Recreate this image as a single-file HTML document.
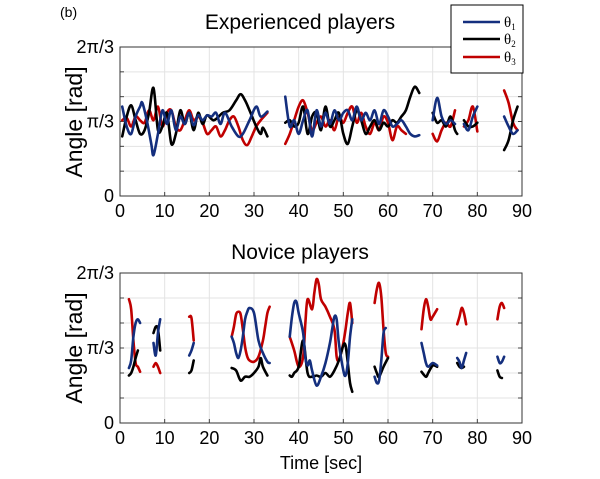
<!DOCTYPE html>
<html><head><meta charset="utf-8"><style>
body{margin:0;background:#fff;}
svg{display:block;font-family:"Liberation Sans",sans-serif;}
</style></head><body>
<svg id="fig" width="600" height="479" viewBox="0 0 600 479" xmlns="http://www.w3.org/2000/svg">
<text x="60" y="17" font-size="14">(b)</text>
<text x="300" y="29" font-size="21" text-anchor="middle">Experienced players</text>
<text x="300" y="259" font-size="21" text-anchor="middle">Novice players</text>
<text transform="translate(82,122) rotate(-90)" font-size="23" text-anchor="middle">Angle [rad]</text>
<text transform="translate(82,348) rotate(-90)" font-size="23" text-anchor="middle">Angle [rad]</text>
<text x="321" y="469" font-size="18" text-anchor="middle">Time [sec]</text>
<g id="top"></g>
<g id="bot"></g>
<g>
<rect x="451" y="5" width="72" height="68" fill="#fff" stroke="#000" stroke-width="1"/>
<line x1="463" y1="22" x2="500" y2="22" stroke="#142f7e" stroke-width="2.5"/>
<line x1="463" y1="39" x2="500" y2="39" stroke="#000" stroke-width="2.5"/>
<line x1="463" y1="57" x2="500" y2="57" stroke="#c00000" stroke-width="2.5"/>
<text x="504" y="27" font-family="Liberation Serif,serif" font-size="15">θ<tspan font-size="9" dy="3">1</tspan></text>
<text x="504" y="44" font-family="Liberation Serif,serif" font-size="15">θ<tspan font-size="9" dy="3">2</tspan></text>
<text x="504" y="62" font-family="Liberation Serif,serif" font-size="15">θ<tspan font-size="9" dy="3">3</tspan></text>
</g>
</svg>
<script>
// values: angle in degrees (2π/3 = 120°), time in seconds
const xTicks = [0,10,20,30,40,50,60,70,80,90];
const yTickVals = [0,60,120];
const yTickLabels = ["0","π/3","2π/3"];
const yGridVals = [0,20,40,60,80,100,120];

const expTheta1 = [
 [[0.5,72],[1.5,56],[2.5,50],[3.5,64],[4.5,72],[5,75],[6,61],[7,42],[7.5,33],[8.5,50],[9.5,69],[10.5,58],[11.5,69],[12.5,53],[13.5,64],[14.5,58],[15.5,67],[16.5,57],[17.5,65],[18.5,61],[19.5,65],[20.5,64],[21.5,67],[22.5,58],[23.5,67],[25,56],[26.5,48],[27.5,50],[29,61],[30.5,72],[31.5,64],[33,68]],
 [[37,80],[38,56],[39,61],[40,50],[41,61],[42,69],[43,48],[44,69],[45,56],[46,67],[47,58],[48,69],[49,61],[50,67],[51,69],[52,61],[53,72],[54,61],[55,67],[56,61],[57,69],[58,58],[59,69],[60,64],[61,56],[62,58],[63,61],[64,56],[65,50],[66,48],[67,49]],
 [[70,61],[71,79],[72,64],[73,58],[74,61],[75,58]],
 [[77,58],[78,53],[79,64],[80,72]],
 [[86,64],[87,56],[88,50],[89,53]]
];
const expTheta2 = [
 [[0.5,48],[1.5,64],[2.5,73],[3.5,61],[4.5,50],[5.5,53],[6.5,67],[7.5,87],[8.5,53],[9.5,56],[10.5,67],[11.5,42],[12.5,50],[13.5,69],[14.5,58],[15.5,67],[16.5,53],[17.5,67],[18.5,58],[19.5,65],[21,61],[23,67],[24.5,69],[26,77],[27,82],[28,77],[29,69],[30.5,56],[31.5,50],[32,55],[33,48]],
 [[37,59],[38,61],[39,56],[40,59],[41,72],[42,50],[43,64],[44,67],[45,53],[46,72],[47,56],[48,61],[49,67],[50,50],[51,42],[52,56],[53,69],[54,61],[55,50],[56,56],[57,61],[58,53],[59,59],[60,56],[61,61],[62,59],[63,64],[64,69],[65,80],[66,88],[67,83]],
 [[70,67],[71,59],[72,61],[73,56],[74,64],[75,53],[75.5,50]],
 [[77,61],[78,56],[79,56],[80,59]],
 [[86,37],[87,45],[88,61],[89,72]]
];
const expTheta3 = [
 [[0.5,61],[1.5,63],[2.5,56],[3.5,64],[4.5,61],[5.5,59],[6.5,69],[7.5,61],[8.5,72],[9.5,56],[10.5,67],[11.5,69],[12.5,56],[13.5,53],[14.5,61],[15.5,69],[16.5,61],[17.5,64],[18.5,59],[19.5,50],[20.5,53],[21.5,56],[22.5,48],[23.5,53],[24.5,61],[25.5,64],[26.5,56],[27.5,45],[28.5,41],[29.5,48],[30.5,56],[31.5,61],[33,67]],
 [[37,42],[38,50],[39,61],[40,72],[41,77],[42,67],[43,53],[44,59],[45,64],[46,56],[47,61],[48,53],[49,64],[50,59],[51,67],[52,72],[53,59],[54,67],[55,56],[56,50],[57,59],[58,53],[59,64],[60,59],[61,45],[62,56],[63,53],[64,50]],
 [[70,50],[71,44],[72,53],[73,59],[74,56],[75,69]],
 [[77,56],[78,61],[79,72],[80,52]],
 [[86,85],[87,75],[88,59],[89,53]]
];
const novTheta1 = [
 [[2,44],[2.5,50],[3,69],[3.5,80],[4,83],[4.5,80]],
 [[7.5,64],[8,54],[8.5,72],[9,83]],
 [[15.5,54],[16,58],[16.5,64]],
 [[25,69],[25.5,64],[26,56],[26.5,52],[27,58],[27.5,69],[28,83],[28.5,89],[29,92],[30,88],[31,66],[32,56],[33,49],[33.5,48]],
 [[38,69],[38.5,85],[39,96],[39.5,97],[40,88],[41,72],[41.5,52],[42,46],[42.5,50],[43,42],[44,30],[45,37],[46,48],[47,64],[47.5,75],[48,85],[48.5,83],[49,64],[50,42],[50.5,38],[51,48],[51.5,69],[52,83]],
 [[57,37],[57.5,32],[58,34],[58.5,50],[59,72],[59.5,76]],
 [[67.5,64],[68,56],[68.5,48],[69,45],[70,48],[71,46]],
 [[75.5,52],[76,49],[76.5,44],[77,50],[77.5,56]],
 [[84.5,53],[85,48],[85.5,49],[86,53]]
];
const novTheta2 = [
 [[2,38],[2.5,40],[3,45],[3.5,52],[4,58]],
 [[7.5,72],[8,77],[8.5,75],[9,58]],
 [[15.5,40],[16,42],[16.5,50]],
 [[25,44],[26,42],[27,34],[28,37],[29,37],[30,40],[31,45],[31.5,52],[32,45],[33,38]],
 [[38,38],[38.5,37],[39,40],[40,45],[41,66],[42,40],[43,37],[44,38],[45,37],[46,40],[47,37],[48,42],[49,50],[50,62],[50.5,62],[51,48],[51.5,32],[52,25]],
 [[57,45],[57.5,40],[58,37],[59,45],[60,52]],
 [[67.5,41],[68.5,37],[69,40],[70,46],[71,45]],
 [[75.5,48],[76,45],[76.5,44],[77,45]],
 [[84.5,42],[85,37],[85.5,36]]
];
const novTheta3 = [
 [[2,99],[2.5,91],[3,66],[3.5,48],[4,45],[4.5,41]],
 [[7.5,45],[8,48],[8.5,45],[9,40]],
 [[15.5,85],[16,84],[16.5,66]],
 [[25,69],[25.5,77],[26,87],[26.5,89],[27,87],[27.5,75],[28,61],[28.5,53],[29,50],[30,49],[31,53],[32,66],[32.5,77],[33,88],[33.5,93]],
 [[38,69],[39,58],[40,45],[41,53],[41.5,80],[42,99],[43,91],[43.5,104],[44,115],[44.5,111],[45,99],[46,93],[47,85],[48,75],[48.5,53],[49,50],[49.5,56],[50,64],[50.5,75],[51,88],[51.5,96],[52,80]],
 [[57,96],[57.5,107],[58,112],[58.5,101],[59,75],[59.5,56],[60,53]],
 [[67.5,75],[68,91],[68.5,99],[69,93],[69.5,83],[70,85],[71,91]],
 [[75.5,79],[76,85],[76.5,92],[77,88],[77.5,79]],
 [[84.5,83],[85,93],[85.5,96],[86,92]]
];

const NS="http://www.w3.org/2000/svg";
function mk(tag, attrs, parent){const e=document.createElementNS(NS,tag);for(const k in attrs)e.setAttribute(k,attrs[k]);parent.appendChild(e);return e;}

function drawPanel(gid, top, bottom, series, prefix){
  const g=document.getElementById(gid);
  const L=120,R=522;
  const xs=t=>L+(t/90)*(R-L);
  const ys=v=>bottom-(v/120)*(bottom-top);
  mk('rect',{x:L,y:top,width:R-L,height:bottom-top,fill:'#fff'},g);
  xTicks.forEach(t=>{
    const l=mk('line',{x1:xs(t),x2:xs(t),y1:top,y2:bottom,stroke:'#e3e3e3','stroke-width':1},g);
    
    
    const tx=mk('text',{x:xs(t),y:bottom+21,'font-size':18,'text-anchor':'middle'},g);
    tx.textContent=t;
    
    
    mk('line',{x1:xs(t),x2:xs(t),y1:bottom,y2:bottom-4,stroke:'#444'},g);
  });
  yGridVals.forEach(v=>{
    const l=mk('line',{x1:L,x2:R,y1:ys(v),y2:ys(v),stroke:'#e3e3e3','stroke-width':1},g);
    
    
    mk('line',{x1:L,x2:L+4,y1:ys(v),y2:ys(v),stroke:'#444'},g);
    mk('line',{x1:R,x2:R-4,y1:ys(v),y2:ys(v),stroke:'#444'},g);
  });
  yTickVals.forEach((v,i)=>{
    const tx=mk('text',{x:L-6,y:ys(v)+6,'font-size':18,'text-anchor':'end'},g);
    tx.textContent=yTickLabels[i];
    
    
  });
  const colors=['#142f7e','#000','#c00000'];
  const order=[2,1,0];
  order.forEach(si=>{
    series[si].forEach(seg=>{
      const p=seg.map(d=>[xs(d[0]),ys(d[1])]);
      let d='M'+p[0][0]+','+p[0][1];
      for(let i=0;i<p.length-1;i++){
        const p0=p[i-1]||p[i],p1=p[i],p2=p[i+1],p3=p[i+2]||p[i+1];
        const c1=[p1[0]+(p2[0]-p0[0])/6,p1[1]+(p2[1]-p0[1])/6];
        const c2=[p2[0]-(p3[0]-p1[0])/6,p2[1]-(p3[1]-p1[1])/6];
        d+=' C'+c1+' '+c2+' '+p2;
      }
      const path=mk('path',{d:d,fill:'none',stroke:colors[si],'stroke-width':2.6,'stroke-linejoin':'round','stroke-linecap':'round'},g);
      
      
    });
  });
  mk('rect',{x:L,y:top,width:R-L,height:bottom-top,fill:'none',stroke:'#333','stroke-width':1},g);
}
drawPanel('top',47,196,[expTheta1,expTheta2,expTheta3],'experienced');
drawPanel('bot',273,423,[novTheta1,novTheta2,novTheta3],'novice');
</script>
</body></html>
